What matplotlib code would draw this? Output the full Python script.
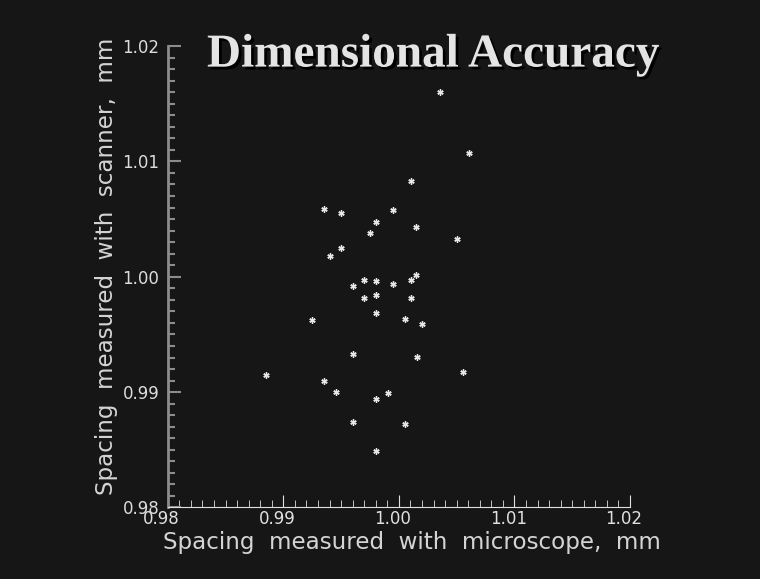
import matplotlib.pyplot as plt
import matplotlib.patheffects as pe
from matplotlib.ticker import MultipleLocator, FormatStrFormatter
from matplotlib.transforms import ScaledTranslation

# spacing measured with microscope (x) and scanner (y), in mm
micro = [1.00352, 1.00606, 1.00104, 0.99353, 0.99503, 0.99953, 0.99803, 1.00152,
         0.99754, 1.00502, 0.99503, 0.99403, 0.99702, 0.99803, 1.00152, 1.00104,
         0.99953, 0.99602, 0.99702, 0.99803, 1.00104, 0.99803, 0.99252, 1.00055,
         1.00204, 0.99602, 1.00156, 0.98854, 1.00554, 0.99353, 0.99455, 0.99803,
         0.99905, 0.99602, 1.00055, 0.99803]
scanner = [1.01598, 1.01075, 1.00829, 1.00587, 1.00555, 1.00578, 1.00471, 1.00428,
           1.00376, 1.00327, 1.00246, 1.00179, 0.99971, 0.99960, 1.00015, 0.99974,
           0.99939, 0.99917, 0.99813, 0.99839, 0.99813, 0.99688, 0.99625, 0.99631,
           0.99588, 0.99328, 0.99307, 0.99146, 0.99172, 0.99094, 0.98998, 0.98943,
           0.98992, 0.98738, 0.98726, 0.98487]

bg = "#161616"
fig = plt.figure(figsize=(7.6, 5.79), dpi=100, facecolor=bg)
ax = fig.add_axes([0.2207, 0.1235, 0.6083, 0.797])
ax.set_facecolor(bg)

ax.plot(micro, scanner, linestyle="none", marker=(6, 2, 0), markersize=4.5,
        markeredgewidth=1.0, color="#e8e8e8")

ax.set_xlim(0.98, 1.02)
ax.set_ylim(0.98, 1.02)
for a in (ax.xaxis, ax.yaxis):
    a.set_major_locator(MultipleLocator(0.01))
    a.set_minor_locator(MultipleLocator(0.001))
    a.set_major_formatter(FormatStrFormatter("%.2f"))

for s in ("top", "right"):
    ax.spines[s].set_visible(False)
ax.spines["bottom"].set_color("#e0e0e0")
ax.spines["left"].set_color("#8c8c8c")
ax.spines["left"].set_linewidth(2)

ax.tick_params(axis="x", which="both", direction="in", colors="#e0e0e0", pad=2,
               labelsize=12)
ax.tick_params(axis="y", which="both", direction="in", colors="#8c8c8c", pad=6,
               labelsize=12, width=1.5)
ax.tick_params(axis="y", labelcolor="#dcdcdc")
ax.tick_params(which="major", length=9)
ax.tick_params(which="minor", length=5)

# x tick labels sit a little left of their ticks
shift = ScaledTranslation(-6 / 100, 0, fig.dpi_scale_trans)
for lbl in ax.get_xticklabels():
    lbl.set_transform(lbl.get_transform() + shift)

ax.set_xlabel("Spacing  measured  with  microscope,  mm", fontsize=16.6,
              color="#d4d4d4")
ax.set_ylabel("Spacing  measured  with  scanner,  mm", fontsize=16.6,
              color="#d4d4d4")
ax.xaxis.set_label_coords(0.529, -0.052)
ax.yaxis.set_label_coords(-0.107, 0.523)

fig.text(0.570, 0.904, "Dimensional Accuracy", fontsize=34,
         family="Liberation Serif", fontweight="bold", color="#e4e4e4",
         ha="center", va="center",
         path_effects=[pe.withSimplePatchShadow(offset=(2, -2),
                                                shadow_rgbFace="black", alpha=1)])

fig.savefig("out.png", dpi=100, facecolor=bg)
